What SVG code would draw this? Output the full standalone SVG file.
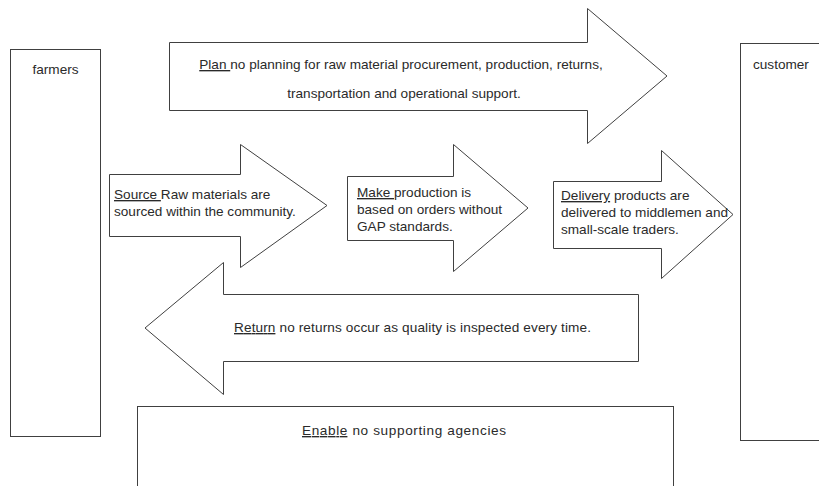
<svg xmlns="http://www.w3.org/2000/svg" width="819" height="486" viewBox="0 0 819 486">
<style>
.s{fill:#fff;stroke:#404040;stroke-width:1}
text{font-family:"Liberation Sans",Arial,sans-serif;font-size:13.6px;fill:#2a2a2a}
.u{text-decoration:underline}
</style>
<rect width="819" height="486" fill="#fff"/>
<g id="farmers">
<rect class="s" x="10.5" y="49.5" width="90" height="387"/>
<text x="55.5" y="74" text-anchor="middle">farmers</text>
</g>
<g id="customer">
<rect class="s" x="740.5" y="43.5" width="100" height="397"/>
<text x="753" y="69">customer</text>
</g>
<g id="enable">
<rect class="s" x="137.5" y="406.5" width="536" height="100"/>
<text x="302" y="435" textLength="204"><tspan class="u">Enable</tspan> no supporting agencies</text>
</g>
<g id="connectors">
<g id="plan">
<polygon class="s" points="169.5,42.5 587.5,42.5 587.5,8.5 667,76 587.5,143.5 587.5,110.5 169.5,110.5"/>
<text x="401" y="69" text-anchor="middle"><tspan class="u">Plan </tspan>no planning for raw material procurement, production, returns,</text>
<text x="404" y="98" text-anchor="middle">transportation and operational support.</text>
</g>
<g id="source">
<polygon class="s" points="109.5,174.5 240.5,174.5 240.5,144.5 327,205.5 240.5,267.5 240.5,236.5 109.5,236.5"/>
<text x="114" y="199"><tspan class="u">Source </tspan>Raw materials are</text>
<text x="114" y="216">sourced within the community.</text>
</g>
<g id="make">
<polygon class="s" points="347.5,176.5 453.5,176.5 453.5,144.5 528,208 453.5,271.5 453.5,240.5 347.5,240.5"/>
<text x="357" y="197"><tspan class="u">Make </tspan>production is</text>
<text x="357" y="214">based on orders without</text>
<text x="357" y="231">GAP standards.</text>
</g>
<g id="delivery">
<polygon class="s" points="553.5,181.5 661.5,181.5 661.5,150.5 733,214.5 661.5,278.5 661.5,248.5 553.5,248.5"/>
<text x="561" y="200"><tspan class="u">Delivery</tspan> products are</text>
<text x="561" y="217">delivered to middlemen and</text>
<text x="561" y="234">small-scale traders.</text>
</g>
<g id="return">
<polygon class="s" points="638.5,294.5 223.5,294.5 223.5,262.5 145,328 223.5,394.5 223.5,361.5 638.5,361.5"/>
<text x="234" y="332" textLength="357"><tspan class="u">Return</tspan> no returns occur as quality is inspected every time.</text>
</g>
</g>
</svg>
